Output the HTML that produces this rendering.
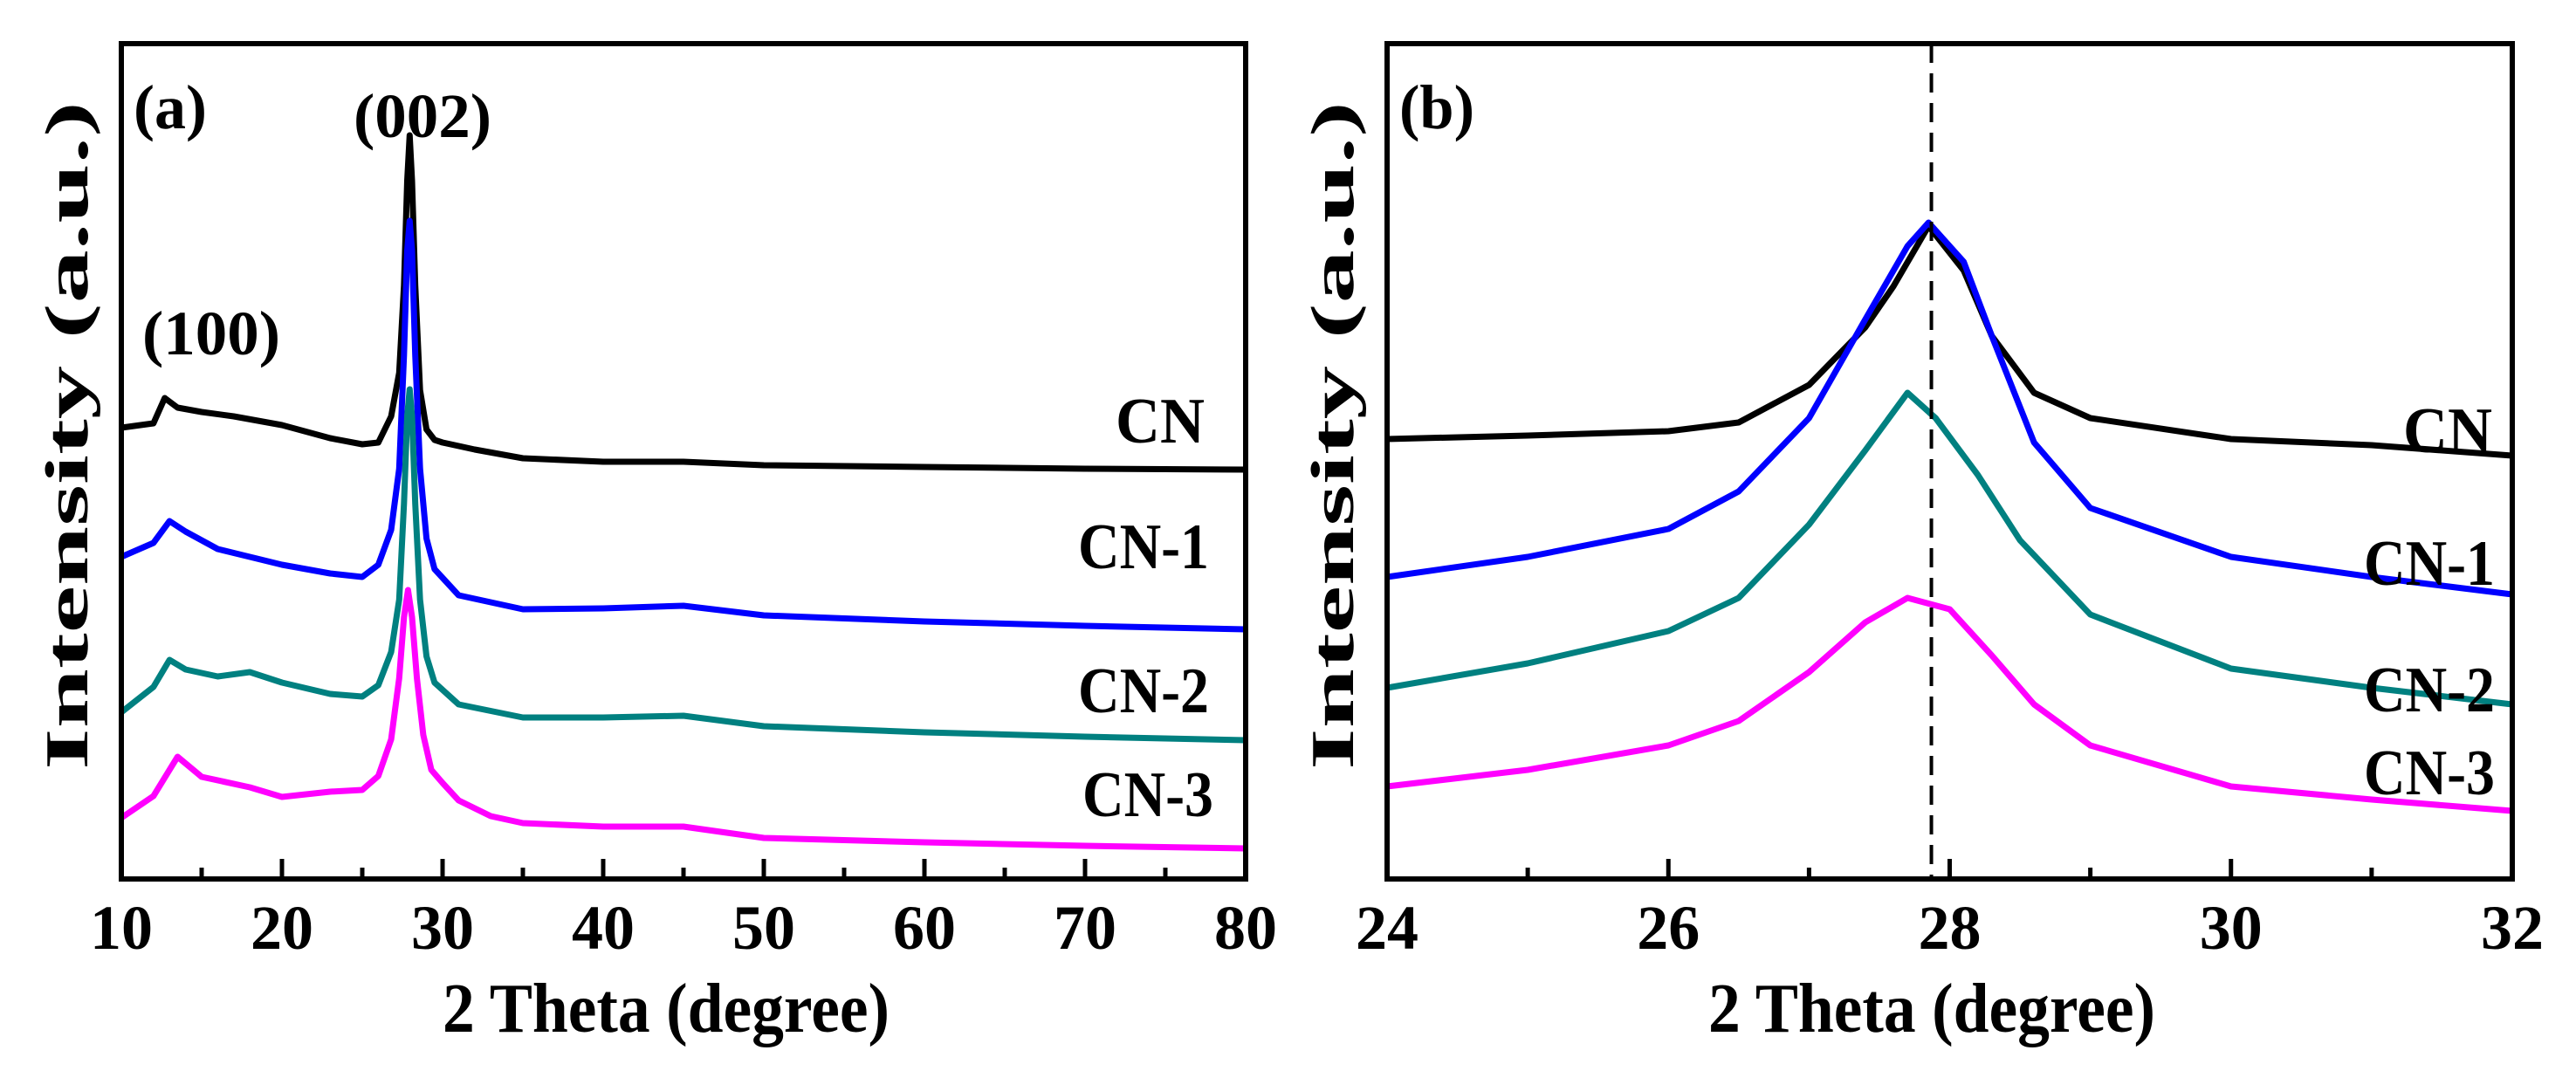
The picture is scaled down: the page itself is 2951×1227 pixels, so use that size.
<!DOCTYPE html>
<html><head><meta charset="utf-8"><style>
html,body{margin:0;padding:0;background:#fff;}
svg{display:block;}
text{font-family:"Liberation Serif","Times New Roman",serif;font-weight:bold;fill:#000;}
</style></head><body>
<svg id="chart" width="2951" height="1227" viewBox="0 0 2951 1227" xmlns="http://www.w3.org/2000/svg"></svg>
<script>
// ---- Panel (a) data ----
const aTicks = [10,20,30,40,50,60,70,80];
const aMinor = [15,25,35,45,55,65,75];
const aCNx  = [10,12,12.7,13.5,15,17,20,23,25,26,26.8,27.3,27.6,27.8,27.95,28.1,28.3,28.6,29,29.5,30,32,35,40,45,50,60,70,80];
const aCNy  = [517,522,551,540,535,530,520,505,498,500,530,580,680,800,852,800,680,560,515,503,500,492,482,478,478,474,472,470,469];
const aCN1x = [10,12,13,14,16,18,20,23,25,26,26.8,27.3,27.6,27.8,27.95,28.1,28.3,28.6,29,29.5,31,35,40,45,50,60,70,80];
const aCN1y = [369,385,410,398,378,369,360,350,346,360,400,470,600,720,754,720,600,470,390,355,325,309,310,313,302,295,290,286];
const aCN2x = [10,12,13,14,16,18,20,23,25,26,26.8,27.3,27.6,27.8,27.95,28.1,28.3,28.6,29,29.5,31,35,40,45,50,60,70,80];
const aCN2y = [191,220,251,240,232,237,225,212,209,222,260,320,430,530,561,530,430,320,255,225,200,185,185,187,175,168,163,159];
const aCN3x = [10,12,13.5,15,18,20,23,25,26,26.8,27.3,27.6,27.85,28.1,28.4,28.8,29.3,30,31,33,35,40,45,50,60,70,80];
const aCN3y = [70,95,140,117,105,94,100,102,118,160,230,300,331,300,230,165,125,110,90,72,64,60,60,47,42,38,35];
// ---- Panel (b) data ----
const bTicks = [24,26,28,30,32];
const bMinor = [25,27,29,31];
const bCNx  = [24,25,26,26.5,27,27.4,27.6,27.85,28.1,28.3,28.6,29,30,31,32];
const bCNy  = [504,508,513,523,566,632,679,748,697,622,557,528,504,497,485];
const bCN1x = [24,25,26,26.5,27,27.4,27.7,27.85,28.1,28.3,28.6,29,30,31,32];
const bCN1y = [346,369,401,444,528,641,725,752,707,622,500,425,369,346,326];
const bCN2x = [24,25,26,26.5,27,27.4,27.7,27.9,28.2,28.5,29,30,31,32];
const bCN2y = [219,247,284,322,406,491,557,528,463,388,303,241,219,200];
const bCN3x = [24,25,26,26.5,27,27.4,27.7,28,28.3,28.6,29,30,31,32];
const bCN3y = [106,125,153,181,237,294,322,309,256,200,153,106,91,78];
const refLine = 27.87;

const NS = "http://www.w3.org/2000/svg";
const svg = document.getElementById('chart');
function mk(tag, attrs, parent){ const e=document.createElementNS(NS,tag); for(const k in attrs) e.setAttribute(k,attrs[k]); (parent||svg).appendChild(e); return e; }

const TOP=50, BOT=1007;
function yScale(v){ return BOT - v; }

function panel(name, L, R, xmin, xmax, ticks, minor, series, labels, tag){
  const g = mk('g',{});
  
  
  const xs = v => L + (v - xmin)/(xmax - xmin)*(R - L);
  series.forEach(s=>{
    let d='';
    s.x.forEach((xv,i)=>{ d += (i?'L':'M') + xs(xv).toFixed(1) + ',' + yScale(s.y[i]).toFixed(1); });
    const p = mk('path',{d:d,fill:'none',stroke:s.c,'stroke-width':7,'stroke-linejoin':'round'},g);
    
    
  });
  if(tag){
    const dl = mk('line',{x1:xs(refLine),x2:xs(refLine),y1:TOP,y2:BOT,stroke:'#000','stroke-width':4,'stroke-dasharray':'22 12'},g);
    
    
  }
  const box = mk('rect',{x:L,y:TOP,width:R-L,height:BOT-TOP,fill:'none',stroke:'#000','stroke-width':6},g);
  
  
  ticks.forEach(t=>{
    const ln = mk('line',{x1:xs(t),x2:xs(t),y1:BOT,y2:BOT-23,stroke:'#000','stroke-width':5},g);
    
    
    const tx = mk('text',{x:xs(t),y:1087,'font-size':72,'text-anchor':'middle'},g);
    
    
    tx.textContent = t;
  });
  minor.forEach(t=>{
    const ln = mk('line',{x1:xs(t),x2:xs(t),y1:BOT,y2:BOT-13,stroke:'#000','stroke-width':5},g);
    
    
  });
  labels.forEach(lb=>{
    const t = mk('text',lb.a,g);
    
    
    t.textContent = lb.t;
  });
}

panel('panel-a', 139, 1427, 10, 80, aTicks, aMinor, [
  {n:'series-cn', x:aCNx, y:aCNy, c:'#000000'},
  {n:'series-cn-1', x:aCN1x, y:aCN1y, c:'#0000ff'},
  {n:'series-cn-2', x:aCN2x, y:aCN2y, c:'#008080'},
  {n:'series-cn-3', x:aCN3x, y:aCN3y, c:'#ff00ff'}
],[
  {n:'panel-label-a', t:'(a)', a:{x:153,y:147,'font-size':72,textLength:84,lengthAdjust:'spacingAndGlyphs'}},
  {n:'peak-label-002', t:'(002)', a:{x:405,y:157,'font-size':72,textLength:158,lengthAdjust:'spacingAndGlyphs'}},
  {n:'peak-label-100', t:'(100)', a:{x:163,y:406,'font-size':72,textLength:158,lengthAdjust:'spacingAndGlyphs'}},
  {n:'label-cn', t:'CN', a:{x:1380,y:507,'font-size':74,'text-anchor':'end',textLength:102,lengthAdjust:'spacingAndGlyphs'}},
  {n:'label-cn-1', t:'CN-1', a:{x:1385,y:651,'font-size':74,'text-anchor':'end',textLength:150,lengthAdjust:'spacingAndGlyphs'}},
  {n:'label-cn-2', t:'CN-2', a:{x:1385,y:816,'font-size':74,'text-anchor':'end',textLength:150,lengthAdjust:'spacingAndGlyphs'}},
  {n:'label-cn-3', t:'CN-3', a:{x:1390,y:935,'font-size':74,'text-anchor':'end',textLength:150,lengthAdjust:'spacingAndGlyphs'}},
  {n:'x-axis-title-a', t:'2 Theta (degree)', a:{x:763,y:1182,'font-size':80,'text-anchor':'middle',textLength:512,lengthAdjust:'spacingAndGlyphs'}},
  {n:'y-axis-title-a', t:'Intensity (a.u.)', a:{x:0,y:0,'font-size':70,'text-anchor':'middle',textLength:766,lengthAdjust:'spacingAndGlyphs',transform:'translate(100,499) rotate(-90)'}}
], false);

panel('panel-b', 1589, 2878, 24, 32, bTicks, bMinor, [
  {n:'series-cn-zoom', x:bCNx, y:bCNy, c:'#000000'},
  {n:'series-cn-1-zoom', x:bCN1x, y:bCN1y, c:'#0000ff'},
  {n:'series-cn-2-zoom', x:bCN2x, y:bCN2y, c:'#008080'},
  {n:'series-cn-3-zoom', x:bCN3x, y:bCN3y, c:'#ff00ff'}
],[
  {n:'panel-label-b', t:'(b)', a:{x:1603,y:147,'font-size':72,textLength:86,lengthAdjust:'spacingAndGlyphs'}},
  {n:'label-cn-b', t:'CN', a:{x:2855,y:518,'font-size':74,'text-anchor':'end',textLength:102,lengthAdjust:'spacingAndGlyphs'}},
  {n:'label-cn-1-b', t:'CN-1', a:{x:2858,y:670,'font-size':74,'text-anchor':'end',textLength:150,lengthAdjust:'spacingAndGlyphs'}},
  {n:'label-cn-2-b', t:'CN-2', a:{x:2858,y:815,'font-size':74,'text-anchor':'end',textLength:150,lengthAdjust:'spacingAndGlyphs'}},
  {n:'label-cn-3-b', t:'CN-3', a:{x:2858,y:910,'font-size':74,'text-anchor':'end',textLength:150,lengthAdjust:'spacingAndGlyphs'}},
  {n:'x-axis-title-b', t:'2 Theta (degree)', a:{x:2213,y:1182,'font-size':80,'text-anchor':'middle',textLength:512,lengthAdjust:'spacingAndGlyphs'}},
  {n:'y-axis-title-b', t:'Intensity (a.u.)', a:{x:0,y:0,'font-size':70,'text-anchor':'middle',textLength:766,lengthAdjust:'spacingAndGlyphs',transform:'translate(1550,499) rotate(-90)'}}
], true);
</script>
</body></html>
